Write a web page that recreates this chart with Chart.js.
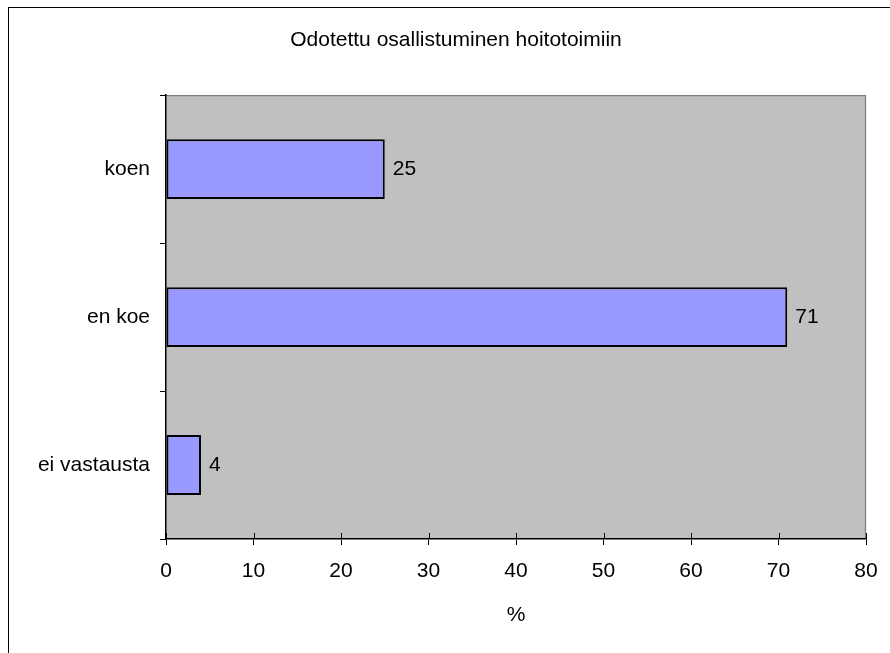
<!DOCTYPE html>
<html>
<head>
<meta charset="utf-8">
<title>Odotettu osallistuminen hoitotoimiin</title>
<script src="https://cdn.jsdelivr.net/npm/chart.js@4/dist/chart.umd.min.js"></script>
<style>
  html, body { margin: 0; padding: 0; background: #fff; overflow: hidden; }
  #wrap { position: relative; width: 890px; height: 653px; overflow: hidden; }
  #frame {
    position: absolute; left: 8px; top: 7px; width: 1000px; height: 1000px;
    border-top: 1px solid #000; border-left: 1px solid #000;
  }
  #chart { position: absolute; left: 0; top: 0; }
</style>
</head>
<body>
<div id="wrap">
  <div id="frame"></div>
  <canvas id="chart" width="912" height="653"></canvas>
</div>
<script>
// Answers to "Odotettu osallistuminen hoitotoimiin", share of respondents (%)
const categories = ['koen', 'en koe', 'ei vastausta'];
const percentages = [25, 71, 4];
const xTickMin = 0;
const xTickMax = 80;
const xTickStep = 10;

const FONT = 'Arial, "Liberation Sans", sans-serif';
const TEXT_SIZE = 21;

// Grey plot background with a thin grey frame on the top and right edges
const plotBackground = {
  id: 'plotBackground',
  beforeDraw(chart) {
    const { ctx, chartArea: a } = chart;
    ctx.save();
    ctx.fillStyle = '#C0C0C0';
    ctx.fillRect(a.left, a.top, a.right - a.left, a.bottom - a.top);
    ctx.strokeStyle = '#808080';
    ctx.lineWidth = 1.3;
    ctx.beginPath();
    ctx.moveTo(a.left, a.top + 0.5);
    ctx.lineTo(a.right - 0.5, a.top + 0.5);
    ctx.lineTo(a.right - 0.5, a.bottom);
    ctx.stroke();
    ctx.restore();
  }
};

// Value axis tick marks also reach into the plot, crossing the axis line
const innerTicks = {
  id: 'innerTicks',
  afterDatasetsDraw(chart) {
    const { ctx, chartArea: a } = chart;
    const xs = chart.scales.x;
    ctx.save();
    ctx.strokeStyle = '#000';
    ctx.lineWidth = 1;
    ctx.beginPath();
    xs.ticks.forEach(t => {
      const px = Math.round(xs.getPixelForValue(t.value)) + 0.5;
      ctx.moveTo(px, a.bottom);
      ctx.lineTo(px, a.bottom - 6);
    });
    ctx.stroke();
    ctx.restore();
  }
};

// Percentage written just past the end of each bar
const barValues = {
  id: 'barValues',
  afterDatasetsDraw(chart) {
    const { ctx } = chart;
    const meta = chart.getDatasetMeta(0);
    ctx.save();
    ctx.fillStyle = '#000';
    ctx.font = TEXT_SIZE + 'px ' + FONT;
    ctx.textAlign = 'left';
    ctx.textBaseline = 'middle';
    meta.data.forEach((bar, i) => {
      ctx.fillText(String(percentages[i]), bar.x + 8, bar.y);
    });
    ctx.restore();
  }
};

new Chart(document.getElementById('chart'), {
  type: 'bar',
  data: {
    labels: categories,
    datasets: [{
      data: percentages,
      backgroundColor: '#9999FF',
      borderColor: '#000000',
      borderWidth: 2,
      borderSkipped: false,
      barPercentage: 0.405,
      categoryPercentage: 1.0
    }]
  },
  options: {
    indexAxis: 'y',
    responsive: false,
    animation: false,
    devicePixelRatio: 1,
    layout: { padding: 0 },
    plugins: {
      legend: { display: false },
      tooltip: { enabled: false },
      title: {
        display: true,
        text: 'Odotettu osallistuminen hoitotoimiin',
        color: '#000',
        font: { family: FONT, size: TEXT_SIZE, weight: 'normal' },
        padding: { top: 28, bottom: 42 }
      }
    },
    scales: {
      x: {
        type: 'linear',
        min: xTickMin,
        max: xTickMax,
        ticks: {
          stepSize: xTickStep,
          color: '#000',
          font: { family: FONT, size: TEXT_SIZE },
          padding: 14,
          maxRotation: 0
        },
        grid: {
          drawOnChartArea: false,
          drawTicks: true,
          tickLength: 6,
          tickColor: '#000',
          tickWidth: 1
        },
        border: { display: true, color: '#000', width: 1.5 },
        title: {
          display: true,
          text: '%',
          color: '#000',
          font: { family: FONT, size: TEXT_SIZE },
          padding: { top: 0, bottom: 25 }
        },
        afterFit(scale) { scale.height = 114; }
      },
      y: {
        type: 'category',
        offset: true,
        ticks: {
          color: '#000',
          font: { family: FONT, size: TEXT_SIZE },
          padding: 10
        },
        grid: {
          offset: true,
          drawOnChartArea: false,
          drawTicks: true,
          tickLength: 6,
          tickColor: '#000',
          tickWidth: 1
        },
        border: { display: true, color: '#000', width: 1.5 },
        afterFit(scale) { scale.width = 166; }
      },
      // empty margin on the right of the plot
      margin: {
        type: 'category',
        position: 'right',
        axis: 'y',
        ticks: { display: false },
        grid: { display: false, drawTicks: false },
        border: { display: false },
        afterFit(scale) { scale.width = 46; }
      }
    }
  },
  plugins: [plotBackground, innerTicks, barValues]
});
</script>
</body>
</html>
